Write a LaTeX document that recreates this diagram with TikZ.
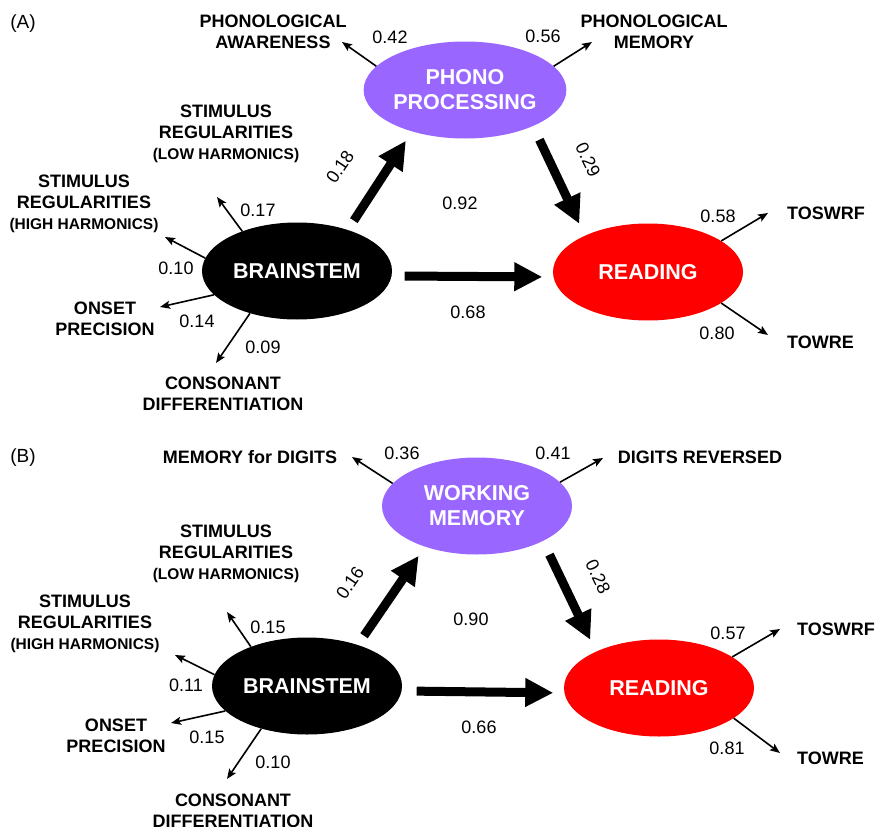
\documentclass[tikz,border=0pt]{standalone}
\usepackage{fontspec}
\setmainfont{Liberation Sans}
\usetikzlibrary{shapes.geometric,arrows.meta}
\definecolor{phono}{HTML}{9966FF}
\newcommand{\harm}[1]{{\fontsize{15.5}{19}\selectfont #1}}

\begin{document}
\begin{tikzpicture}[x=1pt,y=-1pt,
    latent/.style={ellipse,minimum width=190pt,minimum height=97pt,inner sep=0pt,
      text=white,font=\fontsize{21.5}{25}\selectfont\bfseries,align=center},
    lbl/.style={font=\fontsize{18}{21}\selectfont\bfseries,align=center,inner sep=0pt},
    num/.style={font=\fontsize{18}{21}\selectfont,inner sep=0pt},
    bigarr/.style={line width=9pt,-{Triangle[length=28pt,width=27pt]},shorten <=11pt,shorten >=11pt},
    smallarr/.style={line width=1.6pt,-{Stealth[length=10pt,width=8pt,inset=2pt]}}]
  \useasboundingbox (0,0) rectangle (876,827);

  % (A)
  \node[num,font=\fontsize{19}{22}\selectfont] (tagA) at (23,24) {(A)};
  \node[latent,fill=phono] (phonoA) at (465,90) {PHONO\\PROCESSING};
  \node[latent,fill=black] (brainA) at (297,271) {BRAINSTEM};
  \node[latent,fill=red] (readA) at (648,272) {READING};

  \node[lbl] (awareA) at (273,32) {PHONOLOGICAL\\AWARENESS};
  \node[lbl] (pmemA) at (654,32) {PHONOLOGICAL\\MEMORY};
  \node[lbl] (lowA) at (226,134) {STIMULUS\\REGULARITIES\\\harm{(LOW HARMONICS)}};
  \node[lbl] (highA) at (84,204) {STIMULUS\\REGULARITIES\\\harm{(HIGH HARMONICS)}};
  \node[lbl] (onsetA) at (105,319) {ONSET\\PRECISION};
  \node[lbl] (consA) at (223,394) {CONSONANT\\DIFFERENTIATION};
  \node[lbl,anchor=west] (tosA) at (787,213) {TOSWRF};
  \node[lbl,anchor=west] (towA) at (787,342) {TOWRE};

  \coordinate (awareTipA) at (342,42);
  \coordinate (pmemTipA) at (592,42);
  \coordinate (lowTipA) at (217,197);
  \coordinate (highTipA) at (165,237);
  \coordinate (onsetTipA) at (160,307);
  \coordinate (consTipA) at (216,363);
  \coordinate (tosTipA) at (768,213);
  \coordinate (towTipA) at (768,335);

  \draw[bigarr] (brainA.39) -- (phonoA.218);
  \draw[bigarr,shorten <=15pt,shorten >=13pt] (phonoA.332) -- (readA.150);
  \draw[bigarr,shorten <=13pt] (brainA.-3) -- (readA.183);

  \draw[smallarr] (phonoA.165) -- (awareTipA);
  \draw[smallarr] (phonoA.15) -- (pmemTipA);
  \draw[smallarr] (brainA.144) -- (lowTipA);
  \draw[smallarr] (brainA.172) -- (highTipA);
  \draw[smallarr] (brainA.196) -- (onsetTipA);
  \draw[smallarr] (brainA.222) -- (consTipA);
  \draw[smallarr] (readA.23) -- (tosTipA);
  \draw[smallarr] (readA.337) -- (towTipA);

  \node[num] (n42) at (390,37) {0.42};
  \node[num] (n56) at (543,36) {0.56};
  \node[num] (n17) at (258,210) {0.17};
  \node[num] (n10a) at (176,268) {0.10};
  \node[num] (n14) at (197,321) {0.14};
  \node[num] (n09) at (263,347) {0.09};
  \node[num,rotate=56] (n18) at (340,167) {0.18};
  \node[num,rotate=-64] (n29) at (588,160) {0.29};
  \node[num] (n92) at (460,203) {0.92};
  \node[num] (n68) at (468,312) {0.68};
  \node[num] (n58) at (718,216) {0.58};
  \node[num] (n80) at (717,333) {0.80};

  % (B)
  \node[num,font=\fontsize{19}{22}\selectfont] (tagB) at (23,458) {(B)};
  \node[latent,fill=phono] (wmB) at (477,506) {WORKING\\MEMORY};
  \node[latent,fill=black] (brainB) at (307,686) {BRAINSTEM};
  \node[latent,fill=red] (readB) at (659,688) {READING};

  \node[lbl] (digitsB) at (250,457) {MEMORY for DIGITS};
  \node[lbl] (revB) at (700,457) {DIGITS REVERSED};
  \node[lbl] (lowB) at (226,554) {STIMULUS\\REGULARITIES\\\harm{(LOW HARMONICS)}};
  \node[lbl] (highB) at (85,624) {STIMULUS\\REGULARITIES\\\harm{(HIGH HARMONICS)}};
  \node[lbl] (onsetB) at (116,736) {ONSET\\PRECISION};
  \node[lbl] (consB) at (233,811) {CONSONANT\\DIFFERENTIATION};
  \node[lbl,anchor=west] (tosB) at (797,629) {TOSWRF};
  \node[lbl,anchor=west] (towB) at (797,758) {TOWRE};

  \coordinate (digitsTipB) at (352,457);
  \coordinate (revTipB) at (603,458);
  \coordinate (lowTipB) at (227,612);
  \coordinate (highTipB) at (175,655);
  \coordinate (onsetTipB) at (171,723);
  \coordinate (consTipB) at (227,779);
  \coordinate (tosTipB) at (780,629);
  \coordinate (towTipB) at (780,753);

  \draw[bigarr] (brainB.39) -- (wmB.218);
  \draw[bigarr,shorten <=15pt,shorten >=13pt] (wmB.332) -- (readB.150);
  \draw[bigarr,shorten <=15pt] (brainB.-3) -- (readB.183);

  \draw[smallarr] (wmB.165) -- (digitsTipB);
  \draw[smallarr] (wmB.16) -- (revTipB);
  \draw[smallarr] (brainB.145) -- (lowTipB);
  \draw[smallarr] (brainB.173) -- (highTipB);
  \draw[smallarr] (brainB.197) -- (onsetTipB);
  \draw[smallarr] (brainB.223) -- (consTipB);
  \draw[smallarr] (readB.23) -- (tosTipB);
  \draw[smallarr] (readB.338) -- (towTipB);

  \node[num] (n36) at (402,453) {0.36};
  \node[num] (n41) at (553,453) {0.41};
  \node[num] (n15a) at (268,627) {0.15};
  \node[num] (n11) at (186,685) {0.11};
  \node[num] (n15b) at (207,737) {0.15};
  \node[num] (n10b) at (273,762) {0.10};
  \node[num,rotate=56] (n16) at (350,583) {0.16};
  \node[num,rotate=-64] (n28) at (598,577) {0.28};
  \node[num] (n90) at (471,619) {0.90};
  \node[num] (n66) at (479,727) {0.66};
  \node[num] (n57) at (728,633) {0.57};
  \node[num] (n81) at (727,748) {0.81};
\end{tikzpicture}
\end{document}
